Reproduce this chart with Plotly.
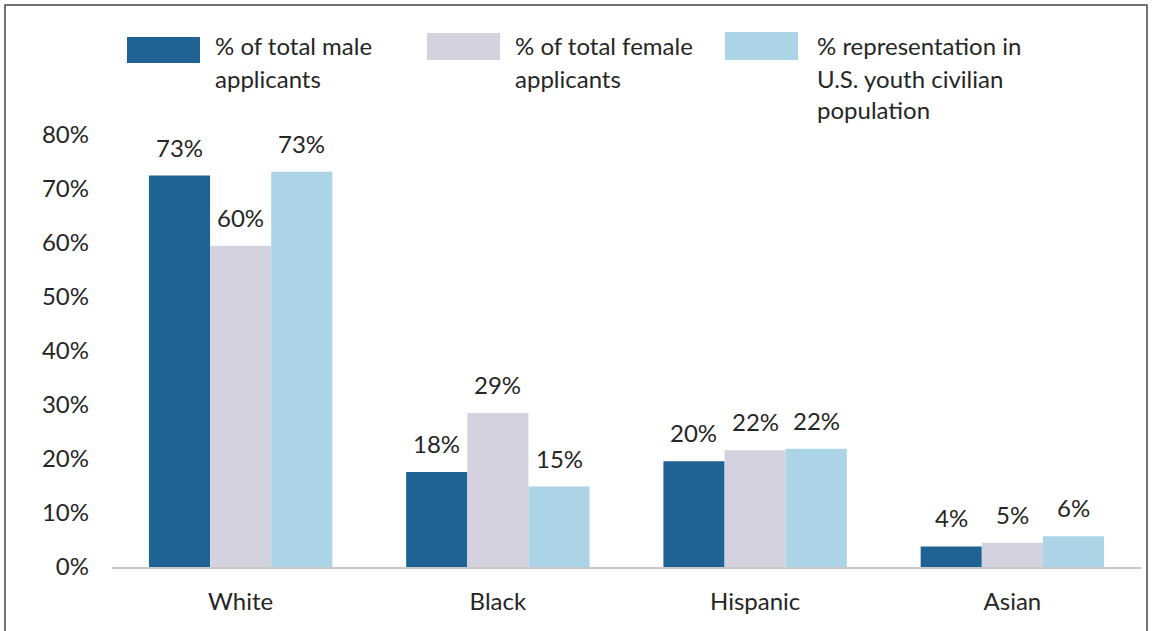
import plotly.graph_objects as go

categories = ["White", "Black", "Hispanic", "Asian"]
series_names = ["% of total male applicants", "% of total female applicants",
                "% representation in U.S. youth civilian population"]
male_values = [72.5, 17.6, 19.6, 3.8]
female_values = [59.5, 28.5, 21.6, 4.5]
pop_values = [73.2, 14.9, 21.9, 5.7]
male_labels = ["73%", "18%", "20%", "4%"]
female_labels = ["60%", "29%", "22%", "5%"]
pop_labels = ["73%", "15%", "22%", "6%"]
y_ticks = [0, 10, 20, 30, 40, 50, 60, 70, 80]
y_tick_labels = [f"{t}%" for t in y_ticks]

colors = ["#1F6294", "#D3D2DE", "#ABD5E6"]
legend_lines = [["% of total male", "applicants"],
                ["% of total female", "applicants"],
                ["% representation in", "U.S. youth civilian", "population"]]

FONT = "Lato, Carlito, Calibri, sans-serif"
TXT = "#262626"
FS = 24

W, H = 1153, 631
L, R, T, B = 112, 12, 135, 64
pw, ph = W - L - R, H - T - B
BARGAP = 0.287
bar_px = pw / len(categories) * (1 - BARGAP) / 3

fig = go.Figure()
annotations = []
all_vals = [male_values, female_values, pop_values]
all_labs = [male_labels, female_labels, pop_labels]
for i, (vals, labs, col, name) in enumerate(zip(all_vals, all_labs, colors, series_names)):
    fig.add_trace(go.Bar(
        x=categories, y=vals, name=name, marker=dict(color=col, line=dict(width=0)),
    ))
    for c, v, lab in zip(categories, vals, labs):
        annotations.append(dict(xref="x", yref="y", x=c, y=v, text=lab, showarrow=False,
                                xanchor="center", yanchor="bottom",
                                xshift=(i - 1) * bar_px, yshift=12,
                                font=dict(family=FONT, size=FS, color=TXT)))

def px(x):
    return (x - L) / pw

def py(y):
    return (H - B - y) / ph

shapes = []
# border
shapes.append(dict(type="rect", xref="paper", yref="paper",
                   x0=px(5), x1=px(1147), y0=py(5), y1=py(660),
                   line=dict(color="#444444", width=1.5), fillcolor="rgba(0,0,0,0)"))
# manual legend
swatch_x = [127, 427, 725]
swatch_y = [(37, 63), (33, 60), (32, 60)]
text_x = [213, 513, 815]
line_y = [46, 78, 109]
for i in range(3):
    shapes.append(dict(type="rect", xref="paper", yref="paper",
                       x0=px(swatch_x[i]), x1=px(swatch_x[i] + 73),
                       y0=py(swatch_y[i][1]), y1=py(swatch_y[i][0]),
                       line=dict(width=0), fillcolor=colors[i]))
    for j, ln in enumerate(legend_lines[i]):
        annotations.append(dict(xref="paper", yref="paper", x=px(text_x[i]), y=py(line_y[j]),
                                xanchor="left", yanchor="middle", text=ln, showarrow=False,
                                font=dict(family=FONT, size=FS, color=TXT)))

fig.update_layout(
    width=W, height=H,
    margin=dict(l=L, r=R, t=T, b=B, pad=0),
    paper_bgcolor="white", plot_bgcolor="white",
    barmode="group", bargap=BARGAP, bargroupgap=0,
    showlegend=False,
    font=dict(family=FONT, size=FS, color=TXT),
    shapes=shapes, annotations=annotations,
    xaxis=dict(showgrid=False, showline=True, linecolor="#C8C8C8", linewidth=1.5,
               ticks="", ticklabelstandoff=12,
               tickfont=dict(family=FONT, size=FS, color=TXT)),
    yaxis=dict(range=[0, 80], tickvals=y_ticks, ticktext=y_tick_labels,
               showgrid=False, zeroline=False, showline=False, ticks="",
               ticklabelstandoff=22,
               tickfont=dict(family=FONT, size=FS, color=TXT)),
)

fig.write_html("out.html", config={"displayModeBar": False},
               post_script="document.body.style.margin='0';document.body.style.padding='0';")
